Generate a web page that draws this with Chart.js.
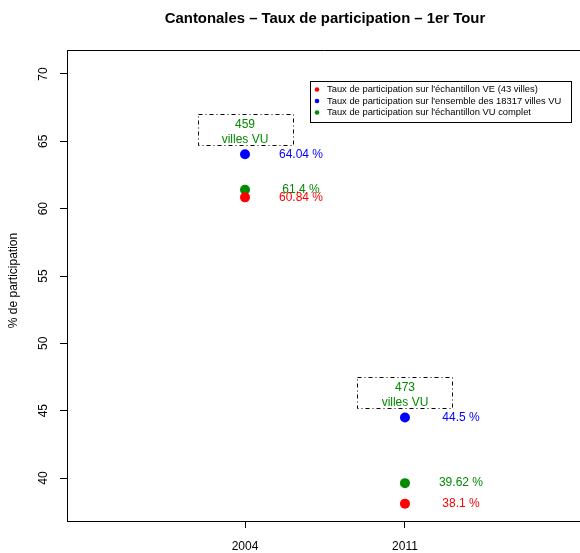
<!DOCTYPE html>
<html>
<head>
<meta charset="utf-8">
<script src="https://cdn.jsdelivr.net/npm/chart.js@4/dist/chart.umd.min.js"></script>
<style>
  html, body { margin: 0; padding: 0; background: #fff; overflow: hidden; }
  #wrap { width: 580px; height: 553px; }
</style>
</head>
<body>
<div id="wrap"><canvas id="c" width="580" height="553"></canvas></div>
<script>
// ---- data ----
const years = [2004, 2011];
const veSample = [60.84, 38.1];      // Taux sur l'échantillon VE (43 villes)
const ensembleVU = [64.04, 44.5];    // Taux sur l'ensemble des 18317 villes VU
const vuComplet = [61.4, 39.62];     // Taux sur l'échantillon VU complet
const vuCounts = [459, 473];
const seriesLabels = [
  "Taux de participation sur l'échantillon VE (43 villes)",
  "Taux de participation sur l'ensemble des 18317 villes VU",
  "Taux de participation sur l'échantillon VU complet"
];
const seriesColors = ['#FF0000', '#0000FF', '#008B00'];
const yTicks = [40, 45, 50, 55, 60, 65, 70];
const xTicks = [2004, 2011];
const titleText = 'Cantonales \u2013 Taux de participation \u2013 1er Tour';
const yTitle = '% de participation';
const xRange = [1996.21, 2018.66];
const yRange = [36.81, 71.78];

const FONT = '"Liberation Sans", Arial, Helvetica, sans-serif';

function pts(vals) { return years.map((y, i) => ({ x: y, y: vals[i] })); }

const seriesData = [veSample, ensembleVU, vuComplet];

const overlay = {
  id: 'overlay',
  afterDatasetsDraw(chart) {
    const ctx = chart.ctx;
    const ca = chart.chartArea;
    const xs = chart.scales.x, ys = chart.scales.y;
    ctx.save();
    // frame top line
    ctx.strokeStyle = '#000';
    ctx.lineWidth = 1;
    ctx.beginPath();
    ctx.moveTo(ca.left + 0.5, ca.bottom);
    ctx.lineTo(ca.left + 0.5, ca.top + 0.5);
    ctx.lineTo(ca.right + 5, ca.top + 0.5);
    ctx.stroke();

    // value labels (draw last dataset first so red ends on top)
    ctx.font = '12px ' + FONT;
    ctx.textAlign = 'center';
    ctx.textBaseline = 'middle';
    for (let d = seriesData.length - 1; d >= 0; d--) {
      ctx.fillStyle = seriesColors[d];
      years.forEach((yr, i) => {
        const px = xs.getPixelForValue(yr) + 56;
        const py = ys.getPixelForValue(seriesData[d][i]);
        ctx.fillText(seriesData[d][i] + ' %', px, py);
      });
    }

    // count boxes
    years.forEach((yr, i) => {
      const cx = xs.getPixelForValue(yr);
      const by = ys.getPixelForValue(ensembleVU[i]);
      ctx.setLineDash([4, 3, 1, 3]);
      ctx.strokeStyle = '#000';
      ctx.strokeRect(Math.round(cx - 47.5) + 0.5, Math.round(by - 40) + 0.5, 95, 31);
      ctx.setLineDash([]);
      ctx.fillStyle = seriesColors[2];
      ctx.fillText(String(vuCounts[i]), cx, by - 30);
      ctx.fillText('villes VU', cx, by - 15);
    });

    // legend
    const lx = 310, ly = 81, lw = 261, lh = 41;
    ctx.fillStyle = '#fff';
    ctx.fillRect(lx, ly, lw, lh);
    ctx.strokeStyle = '#000';
    ctx.strokeRect(lx + 0.5, ly + 0.5, lw, lh);
    ctx.font = '9.4px ' + FONT;
    ctx.textAlign = 'left';
    seriesLabels.forEach((lab, k) => {
      const ry = ly + 8.5 + k * 11.5;
      ctx.fillStyle = seriesColors[k];
      ctx.beginPath();
      ctx.arc(lx + 7, ry, 2.3, 0, Math.PI * 2);
      ctx.fill();
      ctx.fillStyle = '#000';
      ctx.fillText(lab, lx + 17, ry);
    });

    // y tick labels (rotated, R style)
    ctx.font = '12px ' + FONT;
    ctx.fillStyle = '#000';
    ctx.textAlign = 'center';
    ctx.textBaseline = 'middle';
    yTicks.forEach(v => {
      const py = ys.getPixelForValue(v);
      ctx.save();
      ctx.translate(44, py);
      ctx.rotate(-Math.PI / 2);
      ctx.fillText(String(v), 0, 0);
      ctx.restore();
    });

    // y axis title
    ctx.save();
    ctx.translate(14, (ca.top + ca.bottom) / 2 - 5);
    ctx.rotate(-Math.PI / 2);
    ctx.fillText(yTitle, 0, 0);
    ctx.restore();

    // main title
    ctx.font = 'bold 14.9px ' + FONT;
    ctx.fillText(titleText, 325, 19);
    ctx.restore();
  }
};

new Chart(document.getElementById('c'), {
  type: 'scatter',
  data: {
    datasets: seriesLabels.map((lab, k) => ({
      label: lab,
      data: pts(seriesData[k]),
      backgroundColor: seriesColors[k],
      borderColor: seriesColors[k],
      pointRadius: 5,
      pointBorderWidth: 0,
      pointHoverRadius: 5
    }))
  },
  options: {
    responsive: false,
    animation: false,
    events: [],
    layout: { autoPadding: false, padding: { top: 50, right: 0, left: 0, bottom: 0 } },
    plugins: { legend: { display: false }, title: { display: false }, tooltip: { enabled: false } },
    scales: {
      x: {
        type: 'linear',
        min: xRange[0], max: xRange[1],
        afterBuildTicks: s => { s.ticks = xTicks.map(v => ({ value: v })); },
        afterFit: s => { s.height = 32; },
        grid: { drawOnChartArea: false, drawTicks: true, tickLength: 7, color: '#000', lineWidth: 1 },
        border: { display: true, color: '#000', width: 1 },
        ticks: { font: { family: FONT, size: 12 }, color: '#000', padding: 11, maxRotation: 0, callback: v => String(v) }
      },
      y: {
        type: 'linear',
        min: yRange[0], max: yRange[1],
        afterBuildTicks: s => { s.ticks = yTicks.map(v => ({ value: v })); },
        afterFit: s => { s.width = 67; },
        grid: { drawOnChartArea: false, drawTicks: true, tickLength: 7, color: '#000', lineWidth: 1 },
        border: { display: true, color: '#000', width: 1 },
        ticks: { display: false }
      }
    }
  },
  plugins: [overlay]
});
</script>
</body>
</html>
